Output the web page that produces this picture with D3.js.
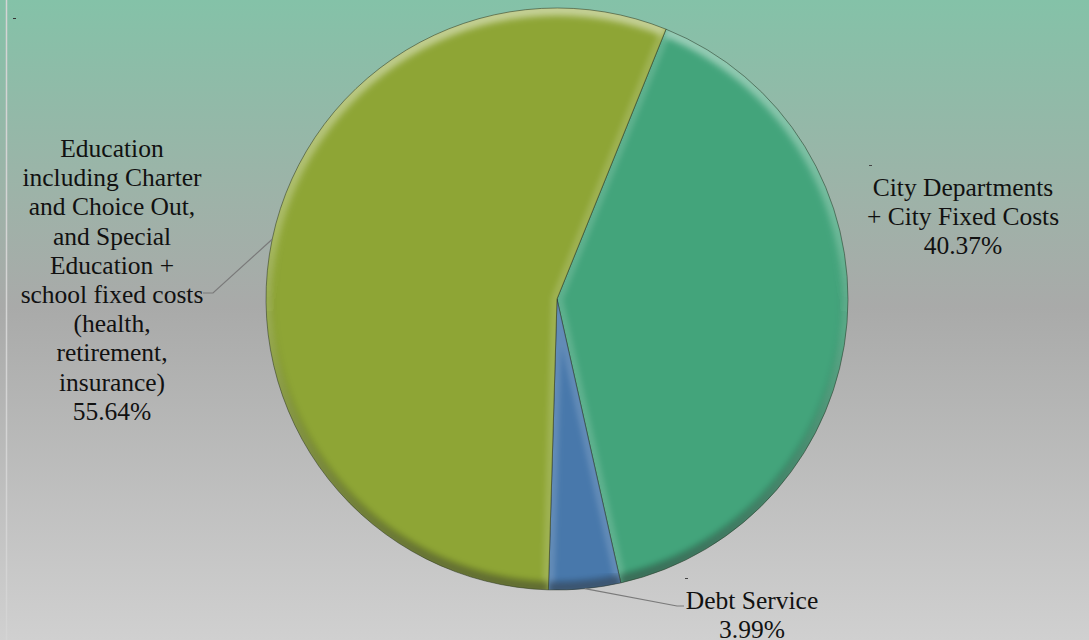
<!DOCTYPE html>
<html>
<head>
<meta charset="utf-8">
<script src="https://cdn.jsdelivr.net/npm/d3@7"></script>
<style>
  html, body { margin: 0; padding: 0; }
  body { width: 1089px; height: 640px; overflow: hidden; }
  svg { display: block; }
</style>
</head>
<body>
<svg id="chart" width="1089" height="640"></svg>
<script>
// Budget shares (percent), in clockwise drawing order
const categories = ["City Departments + City Fixed Costs", "Debt Service", "Education"];
const values = [40.37, 3.99, 55.64];
const colors = ["#43a47b", "#4878ab", "#8ea535"];

// Label text, one entry per line
const labelLines = [
  ["City Departments", "+ City Fixed Costs"],
  ["Debt Service"],
  ["Education", "including Charter", "and Choice Out,", "and Special", "Education +", "school fixed costs", "(health,", "retirement,", "insurance)"]
];

const W = 1089, H = 640;
const cx = 557, cy = 299, R = 291;
const firstSliceAngle = 22 * Math.PI / 180;
const serif = "'Liberation Serif', 'Times New Roman', serif";

const svg = d3.select("#chart");
const defs = svg.append("defs");

// Background: teal at the top fading to light grey
const bg = defs.append("linearGradient").attr("id", "bg").attr("x1", 0).attr("y1", 0).attr("x2", 0).attr("y2", 1);
[["0%", "#84c2a8"], ["30%", "#9db3a8"], ["48%", "#a9aaa9"], ["100%", "#d0d0d0"]]
  .forEach(([o, c]) => bg.append("stop").attr("offset", o).attr("stop-color", c));
svg.append("rect").attr("width", W).attr("height", H).attr("fill", "url(#bg)");

// thin frame line at the left edge
svg.append("line").attr("x1", 6.5).attr("x2", 6.5).attr("y1", 0).attr("y2", H)
  .attr("stroke", "#d4d4d4").attr("stroke-width", 1.5);
svg.append("line").attr("x1", 13).attr("x2", 16).attr("y1", 18.5).attr("y2", 18.5)
  .attr("stroke", "#333").attr("stroke-width", 1);

// Rim lighting: lit from the top, shaded at the bottom
const light = defs.append("linearGradient").attr("id", "light")
  .attr("gradientUnits", "userSpaceOnUse").attr("x1", 0).attr("y1", -R).attr("x2", 0).attr("y2", R);
[["0%", "#fff", 0.4], ["40%", "#fff", 0.08], ["55%", "#000", 0.05], ["100%", "#000", 0.4]]
  .forEach(([o, c, a]) => light.append("stop").attr("offset", o).attr("stop-color", c).attr("stop-opacity", a));

defs.append("filter").attr("id", "soft").attr("x", "-10%").attr("y", "-10%").attr("width", "120%").attr("height", "120%")
  .append("feGaussianBlur").attr("stdDeviation", 2.5);
defs.append("filter").attr("id", "soft2").attr("x", "-10%").attr("y", "-10%").attr("width", "120%").attr("height", "120%")
  .append("feGaussianBlur").attr("stdDeviation", 3);

const pie = d3.pie().sort(null).value(d => d)
  .startAngle(firstSliceAngle).endAngle(firstSliceAngle + 2 * Math.PI);
const arcs = pie(values);
const arc = d3.arc().innerRadius(0).outerRadius(R);
const band = d3.arc().innerRadius(R - 8).outerRadius(R + 4);

const g = svg.append("g").attr("transform", `translate(${cx},${cy})`);

arcs.forEach((a, i) => {
  defs.append("clipPath").attr("id", "clip" + i).append("path").attr("d", arc(a));
});

const slices = g.selectAll("g.slice").data(arcs).join("g").attr("class", "slice");
slices.append("path").attr("d", arc).attr("fill", (d, i) => colors[i]);
const inner = slices.append("g").attr("clip-path", (d, i) => `url(#clip${i})`);
// soft light band along the straight edges
inner.append("path").attr("d", arc)
  .attr("fill", "none").attr("stroke", "#fff").attr("stroke-opacity", 0.14)
  .attr("stroke-width", 12).attr("filter", "url(#soft)");
// bevel band along the rim
inner.append("path").attr("d", band).attr("fill", "url(#light)").attr("filter", "url(#soft2)");
slices.append("path").attr("d", arc).attr("fill", "none")
  .attr("stroke", "#26301f").attr("stroke-opacity", 0.5).attr("stroke-width", 1);

// Labels
const fmt = v => v.toFixed(2) + "%";
const fontSize = 25.5, lineH = 29.2;

function drawLabel(lines, value, x, yTop) {
  const t = svg.append("text").attr("text-anchor", "middle")
    .attr("font-family", serif).attr("font-size", fontSize).attr("fill", "#111");
  lines.concat([fmt(value)]).forEach((s, k) => {
    t.append("tspan").attr("x", x).attr("y", yTop + k * lineH).attr("dy", "0.35em").text(s);
  });
}

drawLabel(labelLines[0], values[0], 963, 187);
drawLabel(labelLines[1], values[1], 752, 600);
drawLabel(labelLines[2], values[2], 112, 148);

// Leader lines from slice mid-angles to their labels
function leader(a, elbow, end) {
  const m = (a.startAngle + a.endAngle) / 2;
  const p0 = [cx + R * Math.sin(m), cy - R * Math.cos(m)];
  svg.append("polyline").attr("points", [p0, elbow, end].map(p => p.join(",")).join(" "))
    .attr("fill", "none").attr("stroke", "#7a7a7a").attr("stroke-width", 1.2);
}
leader(arcs[2], [213, 293], [203, 293]);
leader(arcs[1], [677, 606], [684, 606]);

// small tick marks left by the label anchors
[[869, 165], [685, 578]].forEach(([x, y]) =>
  svg.append("line").attr("x1", x).attr("x2", x + 3).attr("y1", y + 0.5).attr("y2", y + 0.5)
    .attr("stroke", "#444").attr("stroke-width", 1));
</script>
</body>
</html>
